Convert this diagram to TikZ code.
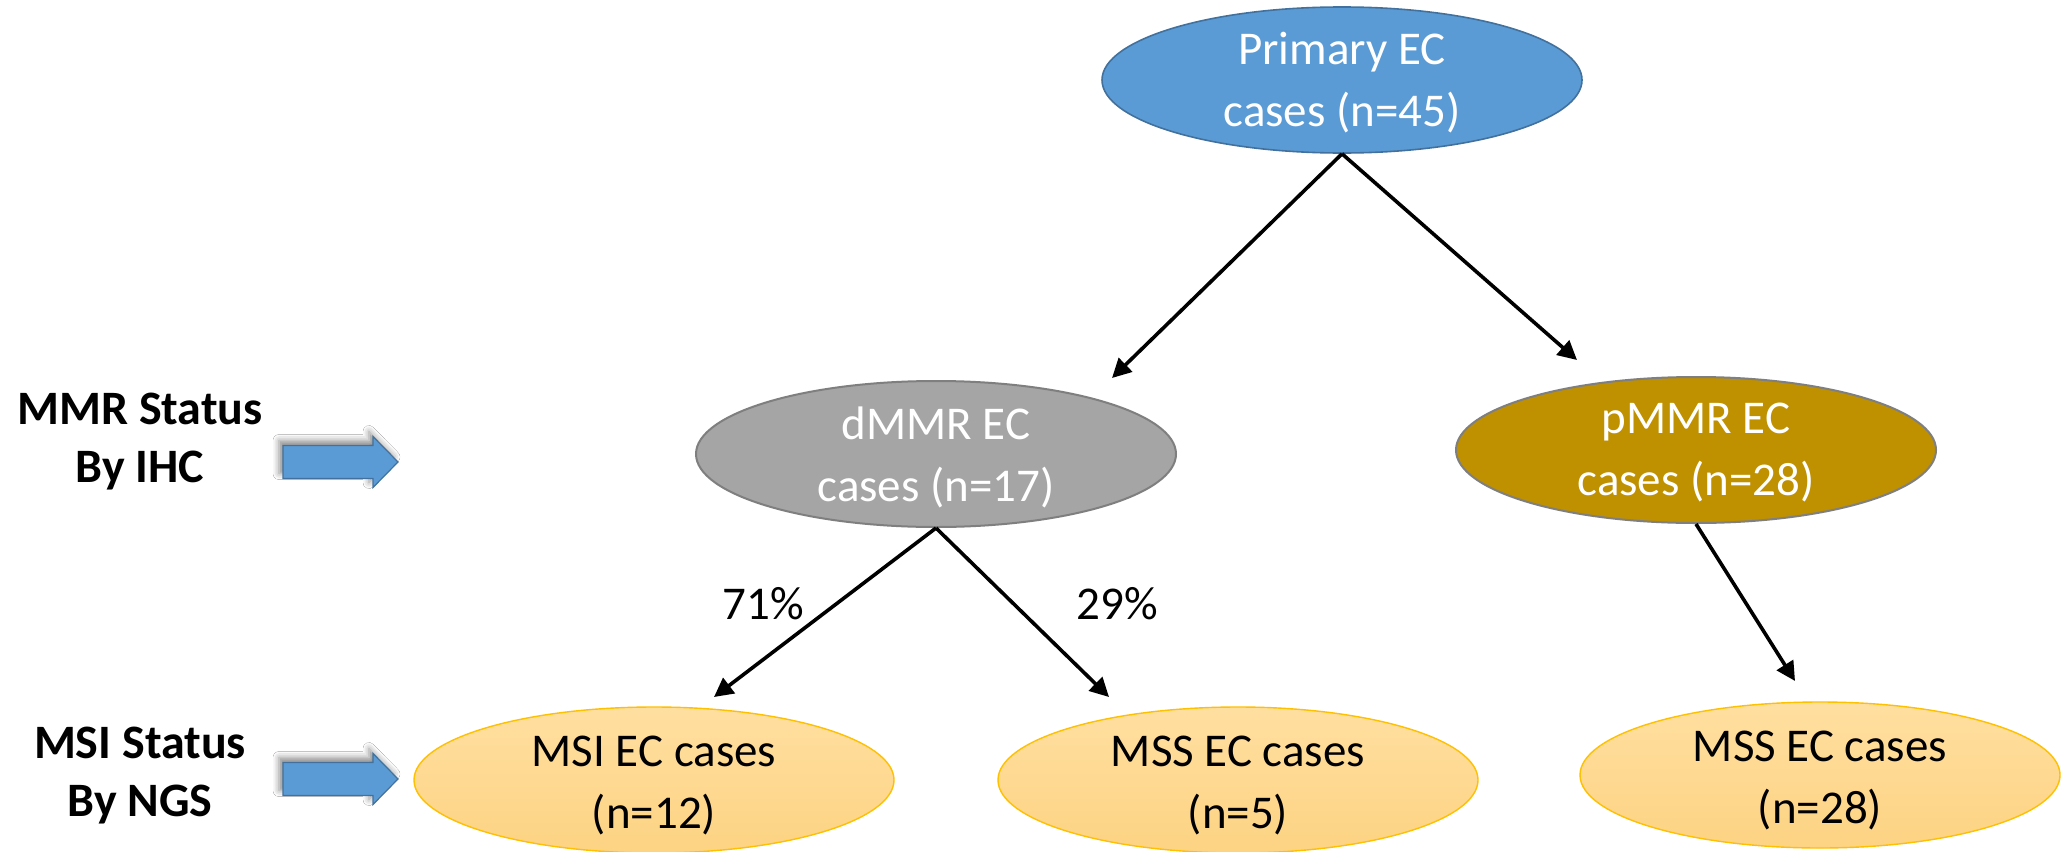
\documentclass[tikz,border=0pt]{standalone}
\usepackage{fontspec}
\setmainfont{Carlito}
\usetikzlibrary{shapes.geometric,arrows.meta,shadows.blur}
\definecolor{pblue}{HTML}{5B9BD5}
\definecolor{pblueline}{HTML}{41719C}
\definecolor{dgray}{HTML}{A5A5A5}
\definecolor{dgrayline}{HTML}{7F7F7F}
\definecolor{pgold}{HTML}{BF9000}
\definecolor{ylight}{HTML}{FFDFA0}
\definecolor{ydark}{HTML}{FDD383}
\definecolor{yline}{HTML}{FFC000}
\begin{document}
\begin{tikzpicture}[x=0.5pt,y=-0.5pt,
  every node/.style={font=\fontsize{23.5pt}{31pt}\selectfont},
  oval/.style={ellipse, minimum width=240pt, minimum height=73pt, inner sep=0pt},
  topoval/.style={oval, fill=pblue, draw=pblueline, line width=0.8pt},
  grayoval/.style={oval, fill=dgray, draw=dgrayline, line width=1pt},
  goldoval/.style={oval, fill=pgold, draw=dgrayline, line width=1pt},
  yoval/.style={oval, top color=ylight, bottom color=ydark, draw=yline, line width=0.7pt},
  wtext/.style={align=center, text=white, inner sep=0pt, yshift=-1.5pt},
  btext/.style={align=center, text=black, inner sep=0pt, yshift=-2.5pt},
  side/.style={align=center, font=\fontsize{24pt}{29pt}\selectfont\bfseries},
  conn/.style={line width=1.8pt, -{Triangle[length=9.5pt,width=9.5pt]}},
  blockarrow/.style={fill=pblue, draw=pblueline, line width=0.6pt,
    blur shadow={shadow xshift=-2pt, shadow yshift=2.5pt, shadow blur radius=3pt, shadow opacity=45}},
  barrow/.pic={\draw[blockarrow] (0,-16.5) -- (90,-16.5) -- (90,-25.5) -- (115,0)
    -- (90,25.5) -- (90,16.5) -- (0,16.5) -- cycle;}
]
\useasboundingbox[fill=white] (0,0) rectangle (2071,851);

% nodes
\node[topoval, label={[wtext]center:{Primary EC\\cases (n=45)}}] (p) at (1342,80) {};
\node[grayoval, label={[wtext]center:{dMMR EC\\cases (n=17)}}] (d) at (936,454) {};
\node[goldoval, label={[wtext]center:{pMMR EC\\cases (n=28)}}] (pm) at (1696,450) {};
\node[yoval, label={[btext]center:{MSI EC cases\\(n=12)}}] (msi) at (654,780) {};
\node[yoval, label={[btext]center:{MSS EC cases\\(n=5)}}] (mss) at (1238,780) {};
\node[yoval, label={[btext]center:{MSS EC cases\\(n=28)}}] (mssb) at (1820,775) {};

% arrow end points
\coordinate (ed) at (1112,378);
\coordinate (epm) at (1577,360);
\coordinate (emsi) at (714,697);
\coordinate (emss) at (1109,697);
\coordinate (emssb) at (1795,681);

\draw[conn] (p.south) -- (ed);
\draw[conn] (p.south) -- (epm);
\draw[conn] (d.south) -- (emsi);
\draw[conn] (d.south) -- (emss);
\draw[conn] (pm.south) -- (emssb);

% percentages
\node (l71) at (763,604) {71\%};
\node (l29) at (1117,604) {29\%};

% side labels
\node[side] (mmr) at (140,442) {MMR Status\\By IHC};
\node[side] (msis) at (140,776) {MSI Status\\By NGS};
\pic at (283,462) {barrow};
\pic at (283,779) {barrow};
\end{tikzpicture}
\end{document}
